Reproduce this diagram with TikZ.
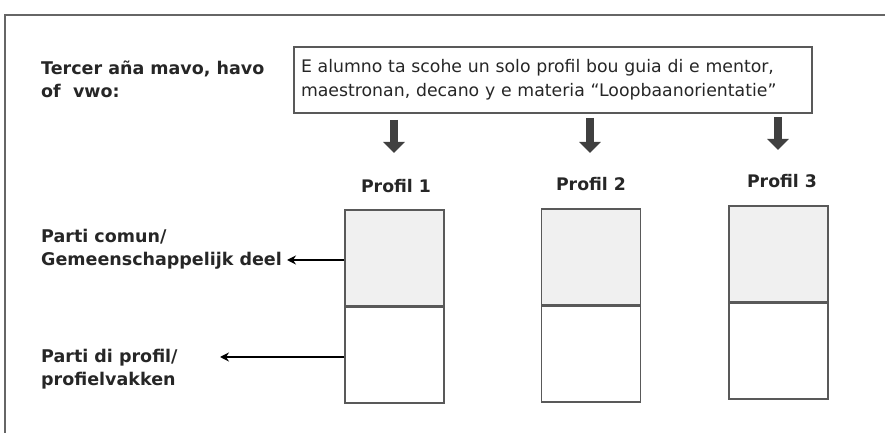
\documentclass[tikz,border=0pt]{standalone}
\usepackage{fontspec}
\setmainfont{DejaVu Sans}
\usetikzlibrary{arrows.meta}
\begin{document}
\begin{tikzpicture}[x=1pt,y=1pt,
  lbl/.style={font=\bfseries\fontsize{17.5}{23}\selectfont, align=left, anchor=north west, inner sep=0pt, text=black!85},
  plbl/.style={font=\bfseries\fontsize{17.3}{20}\selectfont, inner sep=0pt, text=black!85},
  part/.style={draw=black!65, line width=1.3pt, minimum width=99pt, minimum height=96pt, inner sep=0pt},
  blockarrow/.style={draw=black!75, line width=8pt, -{Triangle[width=21pt,length=11pt]}},
  pointer/.style={draw=black, line width=2.3pt, -{Stealth[length=9pt,width=9pt]}}]
\useasboundingbox (0,0) rectangle (885,433);
% frame
\draw[black!60, line width=1.4pt] (885,418) -- (5,418) -- (5,0);
% left labels
\node[lbl] (tercer) at (41,372.5) {Tercer aña mavo, havo\\of~~vwo:};
\node[lbl] (comun) at (41,204.3) {Parti comun/\\Gemeenschappelijk deel};
\node[lbl] (profil) at (41,84.3) {Parti di profil/\\profielvakken};
% top box
\node[draw=black!65, line width=1.3pt, minimum width=518pt, minimum height=66pt, align=left,
  font=\fontsize{17.3}{24}\selectfont, text=black!85, inner sep=0pt, text width=504pt] (top) at (553,353)
  {E alumno ta scohe un solo profil bou guia di e mentor,\\maestronan, decano y e materia “Loopbaanorientatie”};
% profile labels
\node[plbl] (p1) at (396,247) {Profil 1};
\node[plbl] (p2) at (591,249) {Profil 2};
\node[plbl] (p3) at (782,252) {Profil 3};
% boxes
\node[part, fill=black!6] (c1) at (394.5,175) {};
\node[part] (s1) at (394.5,78) {};
\node[part, fill=black!6] (c2) at (591,176) {};
\node[part] (s2) at (591,79) {};
\node[part, fill=black!6] (c3) at (778.5,179) {};
\node[part] (s3) at (778.5,82) {};
% block arrows
\coordinate (a1s) at (394,313); \coordinate (a1e) at (394,280);
\coordinate (a2s) at (590,315); \coordinate (a2e) at (590,280);
\coordinate (a3s) at (778,316); \coordinate (a3e) at (778,283);
\draw[blockarrow] (a1s) -- (a1e);
\draw[blockarrow] (a2s) -- (a2e);
\draw[blockarrow] (a3s) -- (a3e);
% pointers
\coordinate (t1) at (287,173);
\coordinate (t2) at (220,76);
\draw[pointer] (c1.west |- t1) -- (t1);
\draw[pointer] (s1.west |- t2) -- (t2);
\end{tikzpicture}
\end{document}
